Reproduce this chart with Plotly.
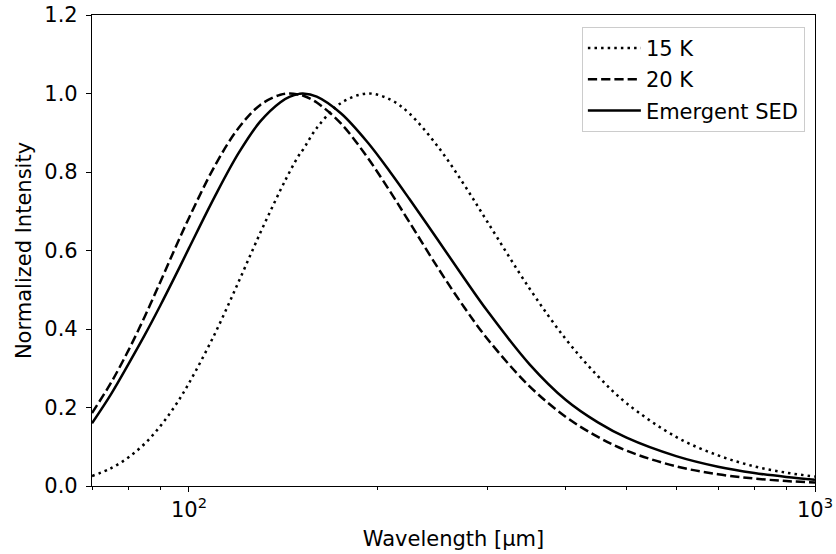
import plotly.graph_objects as go

# Wavelength grid [micron]
wavelength = [70, 75, 80, 85, 90, 95, 100, 110, 120, 130, 140, 145, 150, 152, 160, 175,
              193, 210, 225, 250, 275, 300, 350, 400, 450, 500, 600, 700, 800, 900, 1000]

# Normalized intensities
sed_15k = [0.0255, 0.045, 0.0725, 0.108, 0.1525, 0.204, 0.262, 0.388, 0.520, 0.645, 0.754,
           0.802, 0.844, 0.856, 0.912, 0.976, 1.000, 0.984, 0.949, 0.864, 0.768, 0.672, 0.503,
           0.374, 0.280, 0.211, 0.125, 0.078, 0.050, 0.034, 0.024]
sed_20k = [0.186, 0.262, 0.345, 0.432, 0.520, 0.605, 0.683, 0.816, 0.912, 0.971, 0.997,
           1.000, 0.997, 0.995, 0.977, 0.923, 0.836, 0.748, 0.672, 0.555, 0.456, 0.374, 0.254,
           0.176, 0.125, 0.090, 0.050, 0.030, 0.019, 0.0126, 0.0086]
sed_emergent = [0.16, 0.233, 0.31, 0.385, 0.46, 0.534, 0.606, 0.738, 0.848, 0.929, 0.978,
                0.992, 0.999, 1.000, 0.992, 0.949, 0.875, 0.798, 0.731, 0.626, 0.530, 0.445,
                0.310, 0.219, 0.162, 0.123, 0.076, 0.049, 0.033, 0.023, 0.016]

names = ["15 K", "20 K", "Emergent SED"]
series = [sed_15k, sed_20k, sed_emergent]
dashes = ["2.5px,4.1px", "9.25px,4px", "solid"]

x_tickvals = [100, 1000]
x_ticktext = ["10<sup>2</sup>", "10<sup>3</sup>"]
x_minor = [70, 80, 90, 200, 300, 400, 500, 600, 700, 800, 900]
y_tickvals = [0.0, 0.2, 0.4, 0.6, 0.8, 1.0, 1.2]

FONT = "DejaVu Sans"
FS = 21

fig = go.Figure()
for i, (name, ys, d) in enumerate(zip(names, series, dashes)):
    fig.add_trace(go.Scatter(
        x=wavelength, y=ys, mode="lines", name=name, legendgroup=f"g{i}",
        line=dict(color="black", width=2.5, dash=d, shape="spline", smoothing=1.0),
    ))

axis_common = dict(
    showline=True, linecolor="black", linewidth=1.2, mirror=True,
    ticks="outside", ticklen=5, tickwidth=1.2, tickcolor="black",
    showgrid=False, zeroline=False, automargin=False,
    ticklabeloverflow="allow",
    tickfont=dict(family=FONT, size=FS, color="black"),
)

fig.update_xaxes(
    type="log", range=[1.845098, 3.0],
    tickmode="array", tickvals=x_tickvals, ticktext=x_ticktext,
    minor=dict(tickmode="array", tickvals=x_minor, ticks="outside", ticklen=3,
               tickwidth=1, tickcolor="black", showgrid=False),
    title=dict(text="Wavelength [μm]", font=dict(family=FONT, size=FS, color="black"),
               standoff=10),
    **axis_common,
)
fig.update_yaxes(
    range=[0, 1.2], tickmode="array", tickvals=y_tickvals, tickformat=".1f",
    ticklabelstandoff=4,
    title=dict(text="Normalized Intensity", font=dict(family=FONT, size=FS, color="black"),
               standoff=6),
    **axis_common,
)

fig.update_layout(
    width=836, height=554,
    margin=dict(l=92, r=21, t=15, b=68),
    plot_bgcolor="white", paper_bgcolor="white",
    font=dict(family=FONT, size=FS, color="black"),
    legend=dict(
        x=0.986, y=0.975, xanchor="right", yanchor="top",
        bgcolor="rgba(255,255,255,0.8)", bordercolor="#cccccc", borderwidth=1,
        font=dict(family=FONT, size=FS, color="black"),
        tracegroupgap=1, itemwidth=53,
    ),
    showlegend=True,
)

fig.write_html(
    "out.html",
    config={"displayModeBar": False},
    post_script="document.body.style.margin='0px';document.body.style.overflow='hidden';",
)
